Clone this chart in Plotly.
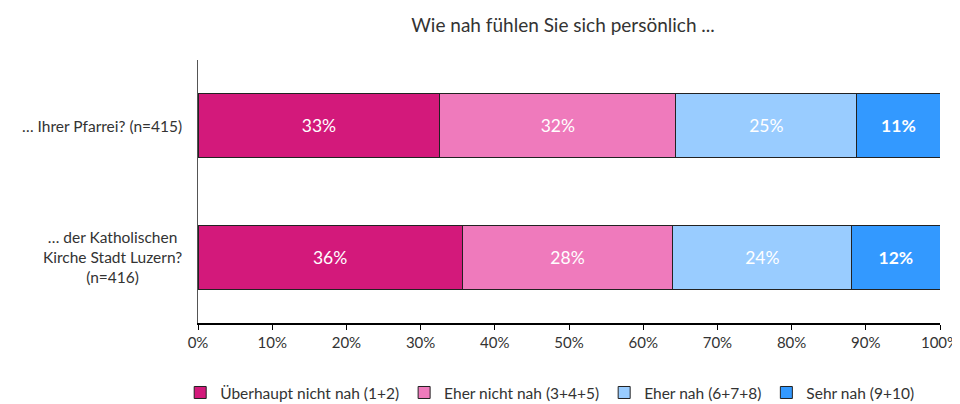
import plotly.graph_objects as go

categories = ["… Ihrer Pfarrei? (n=415)", "… der Katholischen<br>Kirche Stadt Luzern?<br>(n=416)"]
series_names = ["Überhaupt nicht nah (1+2)", "Eher nicht nah (3+4+5)", "Eher nah (6+7+8)", "Sehr nah (9+10)"]
values_pfarrei = [32.6, 31.8, 24.4, 11.2]
values_kirche = [35.6, 28.4, 24.1, 11.9]
labels_pfarrei = ["33%", "32%", "25%", "11%"]
labels_kirche = ["36%", "28%", "24%", "12%"]
colors = ["#D3197B", "#EF7ABC", "#99CCFF", "#3399FF"]
tick_vals = [0, 10, 20, 30, 40, 50, 60, 70, 80, 90, 100]
tick_text = [f"{v}%" for v in tick_vals]

FONT = "Lato, 'Open Sans', sans-serif"

fig = go.Figure()
for i, name in enumerate(series_names):
    bold = i == 3
    txt = [labels_pfarrei[i], labels_kirche[i]]
    if bold:
        txt = [f"<b>{t}</b>" for t in txt]
    fig.add_trace(go.Bar(
        y=categories,
        x=[values_pfarrei[i], values_kirche[i]],
        name=name,
        orientation="h",
        marker=dict(color=colors[i], line=dict(color="#222222", width=1)),
        text=txt,
        textposition="inside",
        insidetextanchor="middle",
        textfont=dict(color="white", size=17.5, family=FONT),
        width=0.49,
        hoverinfo="skip",
    ))

for cat in categories:
    fig.add_annotation(xref="paper", yref="y", x=0, y=cat, xshift=-14,
                       xanchor="right", yanchor="middle", align="center",
                       text=cat, showarrow=False,
                       font=dict(size=15.5, color="#333333", family=FONT))

fig.update_layout(
    barmode="stack",
    width=952, height=396,
    margin=dict(l=190, r=20, t=52, b=81, autoexpand=False),
    paper_bgcolor="white", plot_bgcolor="white",
    font=dict(family=FONT, color="#333333", size=14),
    title=dict(text="Wie nah fühlen Sie sich persönlich ...", x=0.583, xanchor="center",
               xref="container", y=0.957, yanchor="middle",
               font=dict(size=19, color="#333333")),
    legend=dict(orientation="h", x=0.569, xanchor="center", xref="container",
                y=0.028, yanchor="middle", yref="container",
                font=dict(size=15.5, color="#333333"), traceorder="normal",
                itemwidth=30),
    uniformtext=dict(minsize=10, mode="show"),
)
fig.update_xaxes(range=[0, 100], tickvals=tick_vals, ticktext=tick_text,
                 showgrid=False, showline=True, linecolor="black", linewidth=2,
                 ticks="outside", ticklen=5, tickcolor="black", tickwidth=1,
                 tickfont=dict(size=15, color="#333333"), zeroline=False)
fig.update_yaxes(autorange=False, range=[1.5, -0.5], showgrid=False, showline=True,
                 linecolor="#555555", linewidth=1, ticks="", showticklabels=False,
                 zeroline=False)

fig.write_html("out.html")
